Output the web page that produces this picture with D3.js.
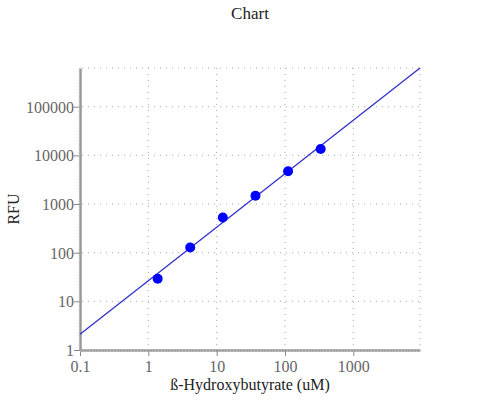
<!DOCTYPE html>
<html>
<head>
<meta charset="utf-8">
<script src="https://cdn.jsdelivr.net/npm/d3@7"></script>
<style>
  body { margin: 0; background: #fff; }
</style>
</head>
<body>
<script>
var width = 500;
var height = 400;
var margin = {top: 68, right: 80, bottom: 50, left: 80};

// standards (uM) and measured RFU
var concentrations = [1.37, 4.1, 12.3, 37, 111, 333];
var rfuValues = [29, 128, 530, 1480, 4700, 13500];

// power fit: RFU = fitA * x^fitB
var fitA = 26.4;
var fitB = 1.1;

var xTicks = [0.1, 1, 10, 100, 1000];
var yTicks = [1, 10, 100, 1000, 10000, 100000];
var xDomain = [0.1, 9460];

var plotW = width - margin.left - margin.right;
var plotH = height - margin.top - margin.bottom;
var serif = "Liberation Serif";

function fit(x) { return fitA * Math.pow(x, fitB); }

var svg = d3.select("body").append("svg")
    .attr("width", width)
    .attr("height", height);

var g = svg.append("g")
    .attr("transform", "translate(" + margin.left + "," + margin.top + ")");

var x = d3.scaleLog().domain(xDomain).range([0, plotW]);
var y = d3.scaleLog().domain([1, fit(xDomain[1])]).range([plotH, 0]);

// dotted grid
var grid = g.append("g").attr("class", "grid")
    .attr("stroke", "#aaa")
    .attr("stroke-width", 1)
    .attr("stroke-dasharray", "1,5");

grid.selectAll(".vx").data(xTicks.slice(1).concat([xDomain[1]])).enter().append("line")
    .attr("x1", function(d) { return x(d); })
    .attr("x2", function(d) { return x(d); })
    .attr("y1", 0)
    .attr("y2", plotH - 2);

grid.selectAll(".hy").data(yTicks.slice(1).concat([y.domain()[1]])).enter().append("line")
    .attr("x1", 2)
    .attr("x2", plotW)
    .attr("y1", function(d) { return y(d); })
    .attr("y2", function(d) { return y(d); });

// axes
var fmt = function(d) { return String(d); };

var xAxis = g.append("g")
    .attr("transform", "translate(0," + plotH + ")")
    .call(d3.axisBottom(x).tickValues(xTicks).tickFormat(fmt).tickSize(6).tickSizeOuter(0));

var yAxis = g.append("g")
    .call(d3.axisLeft(y).tickValues(yTicks).tickFormat(fmt).tickSize(6).tickSizeOuter(0));

[xAxis, yAxis].forEach(function(ax) {
    ax.select(".domain").attr("stroke", "#999").attr("stroke-width", 2.5);
    ax.selectAll(".tick line").attr("stroke", "#888");
    ax.selectAll(".tick text")
        .attr("fill", "#666")
        .style("font-family", serif)
        .style("font-size", "16px");
});
xAxis.selectAll(".tick text").attr("dy", "0.8em");
yAxis.selectAll(".tick text").attr("dy", "0.35em").attr("x", -6);

// hatch on axis lines (minor marks)
g.append("line")
    .attr("x1", 0).attr("x2", plotW)
    .attr("y1", plotH + 1).attr("y2", plotH + 1)
    .attr("stroke", "#ccc").attr("stroke-width", 1)
    .attr("stroke-dasharray", "1,2");
g.append("line")
    .attr("x1", -1).attr("x2", -1)
    .attr("y1", 0).attr("y2", plotH)
    .attr("stroke", "#ccc").attr("stroke-width", 1)
    .attr("stroke-dasharray", "1,2");

// fit line
var line = d3.line()
    .x(function(d) { return x(d); })
    .y(function(d) { return y(fit(d)); });

g.append("path")
    .datum(xDomain)
    .attr("d", line)
    .attr("fill", "none")
    .attr("stroke", "#3030cc")
    .attr("stroke-width", 1.3);

// points
g.selectAll(".pt").data(concentrations).enter().append("circle")
    .attr("class", "pt")
    .attr("cx", function(d) { return x(d); })
    .attr("cy", function(d, i) { return y(rfuValues[i]); })
    .attr("r", 5)
    .attr("fill", "#0000ff");

// titles
svg.append("text")
    .attr("x", width / 2).attr("y", 19)
    .attr("text-anchor", "middle")
    .attr("fill", "#222")
    .style("font-family", serif)
    .style("font-size", "17px")
    .text("Chart");

svg.append("text")
    .attr("x", margin.left + plotW / 2).attr("y", 390)
    .attr("text-anchor", "middle")
    .attr("fill", "#222")
    .style("font-family", serif)
    .style("font-size", "16px")
    .text("ß-Hydroxybutyrate (uM)");

svg.append("text")
    .attr("transform", "translate(19," + (margin.top + plotH / 2) + ") rotate(-90)")
    .attr("text-anchor", "middle")
    .attr("fill", "#222")
    .style("font-family", serif)
    .style("font-size", "16px")
    .text("RFU");
</script>
</body>
</html>
